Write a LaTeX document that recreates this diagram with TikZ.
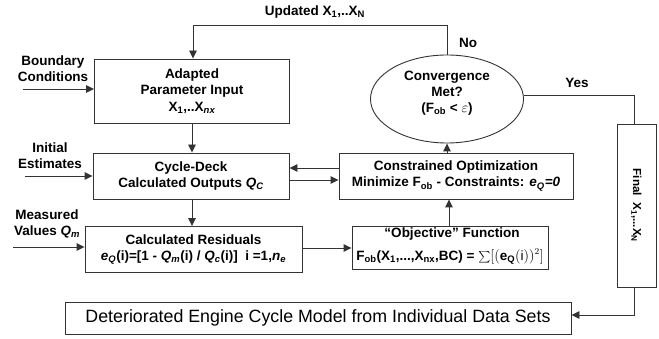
\documentclass[tikz,border=0pt]{standalone}
\usepackage{fontspec}
\usepackage{graphicx}
\setmainfont{Liberation Sans}
\usetikzlibrary{shapes.geometric,arrows.meta}
\newcommand{\sbs}[1]{\textsubscript{#1}}
\begin{document}
\begin{tikzpicture}[x=1pt,y=-1pt,
  box/.style={draw=black!80,line width=0.9pt,rectangle,inner sep=0pt,align=center,font=\fontsize{13.5}{16}\selectfont\bfseries},
  lbl/.style={align=center,inner sep=0pt,font=\fontsize{13.5}{16}\selectfont\bfseries},
  conn/.style={draw=black!80,line width=0.9pt},
  arr/.style={conn,-{Triangle[length=8pt,width=7.5pt]}}]
\useasboundingbox (0,0) rectangle (659,339);
% boxes
\node[box,minimum width=195,minimum height=64] (adapt) at (192,91) {Adapted\\Parameter Input\\[1pt]X\sbs{1},..X\sbs{\itshape nx}};
\node[box,minimum width=196,minimum height=46] (cycle) at (191,176) {Cycle-Deck\\Calculated Outputs \textit{Q\sbs{C}}};
\node[box,minimum width=217,minimum height=46] (resid) at (193.5,249.5) {Calculated Residuals\\\textit{e\sbs{Q}}(i)=[1 - \textit{Q\sbs{m}}(i) / \textit{Q\sbs{c}}(i)]\ \ i =1,\textit{n\sbs{e}}};
\node[box,minimum width=234,minimum height=46] (constr) at (456,176) {Constrained Optimization\\Minimize F\sbs{ob} - Constraints: \textit{e\sbs{Q}=0}};
\node[box,minimum width=196,minimum height=43] (obj) at (450,247.5) {};
\node[lbl] (objt1) at (452,234) {``Objective'' Function};
\node[lbl] (objt2) at (450,256.5) {F\sbs{ob}(X\sbs{1},...,X\sbs{nx},BC) = \raisebox{-1pt}{\scalebox{1.15}{$\sum$}}$\bigl[(\mathbf{e}_{\mathbf{Q}}(\mathrm{i}))^2\bigr]$};
\node[draw=black!80,line width=0.9pt,ellipse,minimum width=153,minimum height=88,inner sep=0pt] (conv) at (447,99) {};
\node[lbl] (convt) at (447,93) {Convergence\\Met?\\(F\sbs{ob} < $\varepsilon$)};
\node[box,minimum width=39,minimum height=163] (final) at (636.5,205.5) {};
\node[lbl,rotate=-90,font=\fontsize{11.6}{14}\selectfont\bfseries] (finalt) at (final.center) {Final\ \ X\sbs{1},...X\sbs{N}};
\node[box,minimum width=506,minimum height=32,font=\fontsize{17.8}{20}\selectfont] (det) at (318,318) {Deteriorated Engine Cycle Model from Individual Data Sets};
% labels
\node[lbl] (bcl) at (53,68.5) {Boundary\\Conditions};
\node[lbl] (iel) at (50,156) {Initial\\Estimates};
\node[lbl] (mvl) at (47,224) {Measured\\Values \textit{Q\sbs{m}}};
\node[lbl] (upd) at (315,12) {Updated X\sbs{1},..X\sbs{N}};
\node[lbl] (nol) at (468,43) {No};
\node[lbl] (yesl) at (577,83) {Yes};
% input arrows
\coordinate (bcs) at (23,89);
\coordinate (ies) at (25,176);
\coordinate (mvs) at (13,247);
\draw[arr] (bcs) -- (bcs -| adapt.west);
\draw[arr] (ies) -- (ies -| cycle.west);
\draw[arr] (mvs) -- (mvs -| resid.west);
% main flow
\draw[arr] (adapt.south) -- (adapt.south |- cycle.north);
\draw[arr] ([xshift=1pt]cycle.south) -- ([xshift=1pt]cycle.south |- resid.north);
\draw[arr] (resid.east |- 0,248) -- (obj.west |- 0,248);
\draw[arr] (obj.north -| 449,0) -- (constr.south -| 449,0);
\draw[arr] (constr.north -| conv.south) -- (conv.south);
\draw[arr] (constr.west |- 0,168) -- (cycle.east |- 0,168);
\draw[arr] (cycle.east |- 0,180) -- (constr.west |- 0,180);
% feedback
\coordinate (tr) at (447,25);
\coordinate (tl) at (193,25);
\draw[arr] (conv.north) -- (tr) -- (tl) -- (tl |- adapt.north);
\coordinate (yc) at (634,95);
\draw[conn] (conv.east |- yc) -- (yc) -- (yc |- final.north);
\coordinate (fc) at (634,315);
\draw[arr] (final.south -| fc) -- (fc) -- (fc -| det.east);
\end{tikzpicture}
\end{document}
